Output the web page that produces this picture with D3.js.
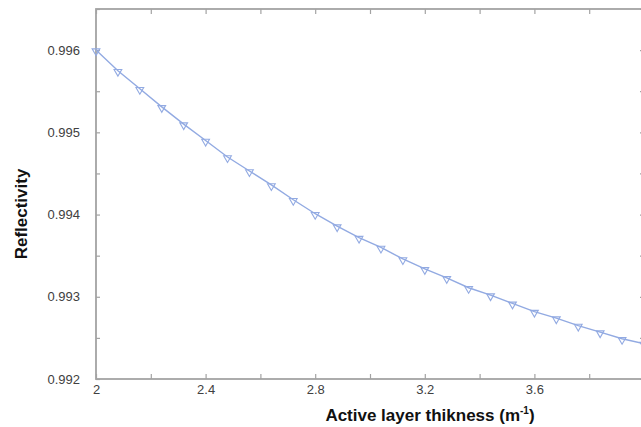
<!DOCTYPE html>
<html>
<head>
<meta charset="utf-8">
<script src="https://cdn.jsdelivr.net/npm/d3@7"></script>
<style>
  html, body { margin: 0; padding: 0; background: #fff; }
  svg { display: block; }
</style>
</head>
<body>
<svg id="chart" width="641" height="427"></svg>
<script>
// Active layer thickness samples and the computed reflectivity
const thickness = [2.00, 2.08, 2.16, 2.24, 2.32, 2.40, 2.48, 2.56, 2.64, 2.72,
                   2.80, 2.88, 2.96, 3.04, 3.12, 3.20, 3.28, 3.36, 3.44, 3.52,
                   3.60, 3.68, 3.76, 3.84, 3.92, 4.00];
const reflectivity = [0.99600, 0.99575, 0.99553, 0.99531, 0.99510, 0.99490, 0.99470, 0.99453, 0.99436, 0.99418,
                      0.99401, 0.99386, 0.99372, 0.99360, 0.99346, 0.99334, 0.99323, 0.99311, 0.99302, 0.99292,
                      0.99282, 0.99274, 0.99265, 0.99257, 0.99249, 0.99243];
const xTickValues = [2, 2.2, 2.4, 2.6, 2.8, 3.0, 3.2, 3.4, 3.6, 3.8, 4.0];
const xTickLabels = ["2", "", "2.4", "", "2.8", "", "3.2", "", "3.6", "", ""];
const yTickValues = [0.992, 0.9925, 0.993, 0.9935, 0.994, 0.9945, 0.995, 0.9955, 0.996, 0.9965];
const yTickLabels = ["0.992", "", "0.993", "", "0.994", "", "0.995", "", "0.996", ""];

const svg = d3.select("#chart");
const plotLeft = 96, plotRight = 644, plotTop = 9, plotBottom = 379;

const x = d3.scaleLinear().domain([2, 4]).range([plotLeft, plotRight]);
const y = d3.scaleLinear().domain([0.992, 0.9965]).range([plotBottom, plotTop]);

const axisColor = "#a3a3a3";
const textColor = "#404040";
const font = "Arial, 'Liberation Sans', sans-serif";

// Frame
svg.append("rect")
  .attr("x", plotLeft).attr("y", plotTop)
  .attr("width", plotRight - plotLeft).attr("height", plotBottom - plotTop)
  .attr("fill", "none").attr("stroke", axisColor).attr("stroke-width", 1.8);

function styleAxis(g) {
  g.select(".domain").remove();
  g.selectAll(".tick line").attr("stroke", axisColor).attr("stroke-width", 1.2);
  g.selectAll(".tick text").attr("fill", textColor)
    .style("font-family", font).style("font-size", "13px");
}

// Bottom axis: ticks point inward
svg.append("g").attr("transform", `translate(0,${plotBottom})`)
  .call(d3.axisBottom(x).tickValues(xTickValues)
    .tickFormat((d, i) => xTickLabels[i]).tickSizeInner(-5).tickSizeOuter(0).tickPadding(6))
  .call(styleAxis);

// Top axis: ticks only
svg.append("g").attr("transform", `translate(0,${plotTop})`)
  .call(d3.axisTop(x).tickValues(xTickValues).tickFormat("").tickSizeInner(-5).tickSizeOuter(0))
  .call(styleAxis);

// Left axis
svg.append("g").attr("transform", `translate(${plotLeft},0)`)
  .call(d3.axisLeft(y).tickValues(yTickValues)
    .tickFormat((d, i) => yTickLabels[i]).tickSizeInner(-4).tickSizeOuter(0).tickPadding(16))
  .call(styleAxis);

// Right axis: ticks only
svg.append("g").attr("transform", `translate(${plotRight},0)`)
  .call(d3.axisRight(y).tickValues(yTickValues).tickFormat("").tickSizeInner(-4).tickSizeOuter(0))
  .call(styleAxis);

// Curve
const pts = thickness.map((t, i) => [t, reflectivity[i]]);
const lineColor = "#92aae2";
svg.append("path")
  .datum(pts)
  .attr("fill", "none")
  .attr("stroke", lineColor)
  .attr("stroke-width", 1.4)
  .attr("d", d3.line().x(d => x(d[0])).y(d => y(d[1])));

// Downward triangle markers
const tri = d3.symbol().type(d3.symbolTriangle).size(26);
svg.append("g").selectAll("path")
  .data(pts)
  .join("path")
  .attr("d", tri)
  .attr("transform", d => `translate(${x(d[0])},${y(d[1]) + 1}) rotate(180)`)
  .attr("fill", "none")
  .attr("stroke", lineColor)
  .attr("stroke-width", 1.1);

// Axis titles
const xt = svg.append("text")
  .attr("x", 430).attr("y", 421)
  .attr("text-anchor", "middle")
  .style("font-family", font).style("font-size", "17px").style("font-weight", "bold")
  .attr("fill", "#111");
xt.append("tspan").text("Active layer thikness (m");
xt.append("tspan").attr("dy", -7).style("font-size", "10px").text("-1");
xt.append("tspan").attr("dy", 7).text(")");

svg.append("text")
  .attr("transform", "translate(27,214) rotate(-90)")
  .attr("text-anchor", "middle")
  .style("font-family", font).style("font-size", "17px").style("font-weight", "bold")
  .attr("fill", "#111")
  .text("Reflectivity");
</script>
</body>
</html>
